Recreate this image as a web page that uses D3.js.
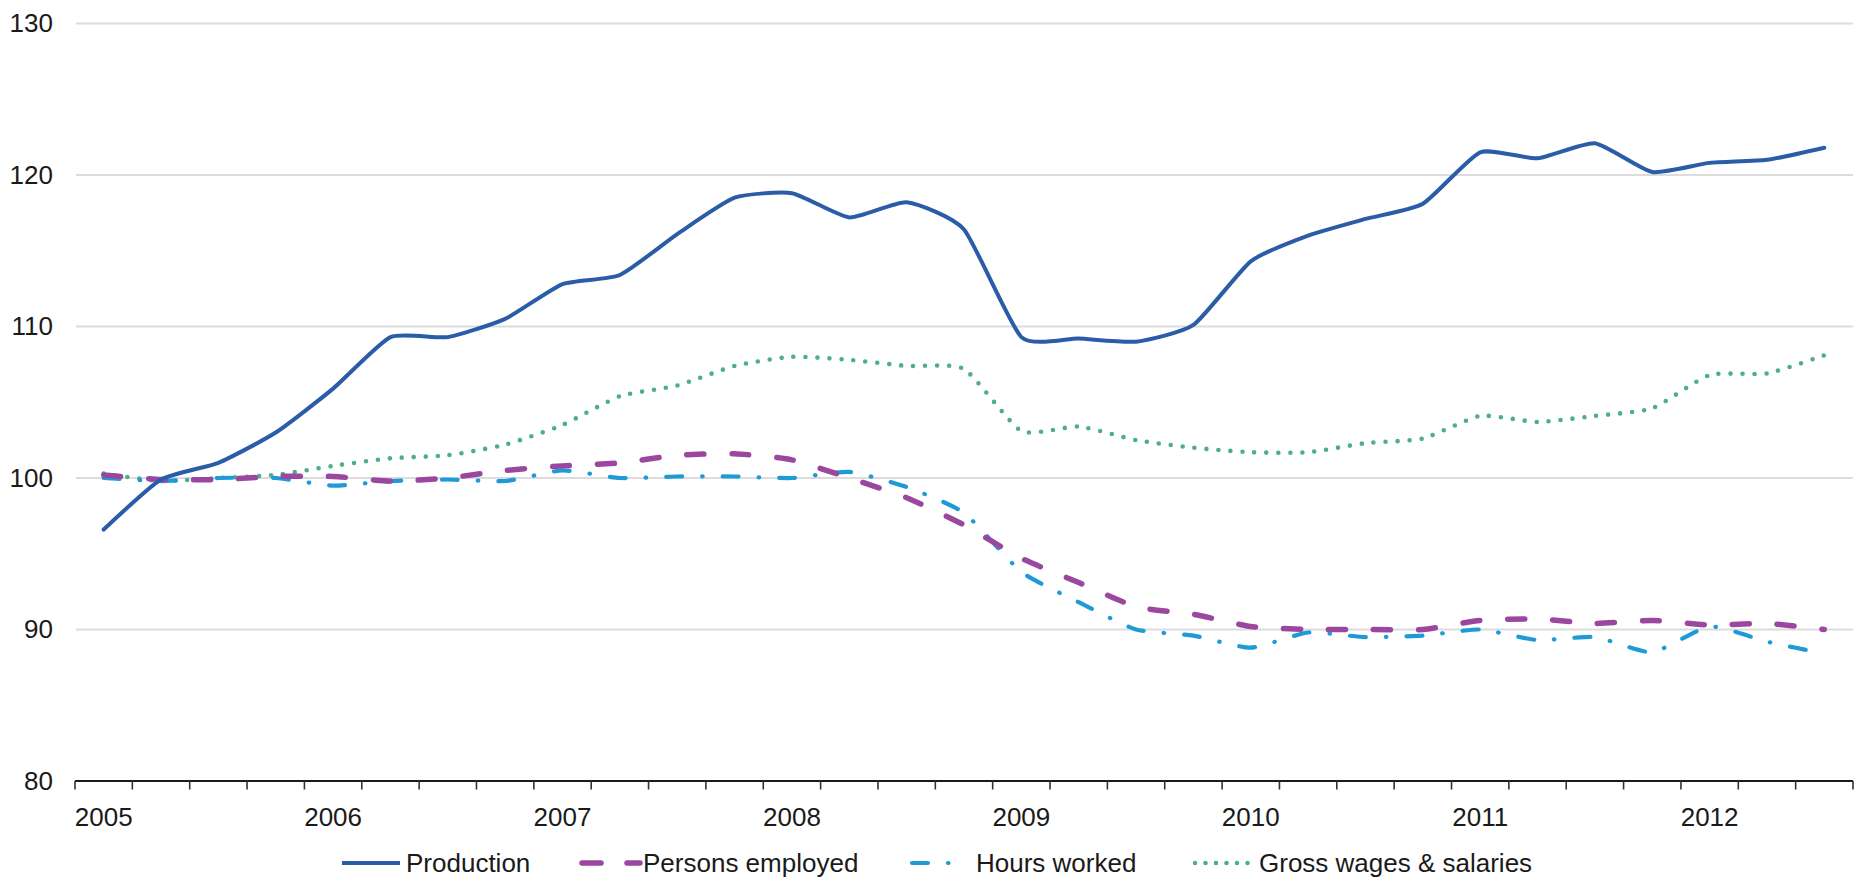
<!DOCTYPE html>
<html>
<head>
<meta charset="utf-8">
<script src="https://cdn.jsdelivr.net/npm/d3@7"></script>
<style>
  html, body { margin: 0; padding: 0; background: #ffffff; }
  svg { display: block; }
  text { font-family: "Liberation Sans", Arial, sans-serif; fill: #1a1a1a; }
</style>
</head>
<body>
<svg id="chart" width="1865" height="879"></svg>
<script>
// ---- data ----
const years = ["2005", "2006", "2007", "2008", "2009", "2010", "2011", "2012"];
const quarters = ["Q1", "Q2", "Q3", "Q4"];
const categories = [];
years.forEach(y => quarters.forEach(q => categories.push(y + q)));
categories.length = 31; // 2005Q1 .. 2012Q3

const yTicks = [80, 90, 100, 110, 120, 130];

const production = [96.6, 99.9, 101.0, 103.0, 105.9, 109.3, 109.3, 110.5, 112.8, 113.4, 116.1, 118.5, 118.8, 117.2, 118.2, 116.4,
                    109.3, 109.2, 109.0, 110.1, 114.3, 116.0, 117.1, 118.1, 121.5, 121.1, 122.1, 120.2, 120.8, 121.0, 121.8];
const personsEmployed = [100.2, 99.9, 99.9, 100.1, 100.1, 99.8, 100.0, 100.5, 100.8, 101.0, 101.5, 101.6, 101.2, 100.0, 98.7, 96.9,
                    94.7, 93.1, 91.5, 91.0, 90.2, 90.0, 90.0, 90.0, 90.6, 90.7, 90.4, 90.6, 90.3, 90.4, 90.0];
const hoursWorked = [100.0, 99.8, 100.0, 100.0, 99.5, 99.8, 99.9, 99.8, 100.5, 100.0, 100.1, 100.1, 100.0, 100.4, 99.4, 97.7,
                    93.8, 91.8, 90.0, 89.6, 88.8, 89.8, 89.5, 89.6, 90.0, 89.3, 89.5, 88.5, 90.2, 89.2, 88.4];
const grossWages = [100.3, 99.8, 100.0, 100.2, 100.8, 101.3, 101.5, 102.2, 103.5, 105.4, 106.1, 107.4, 108.0, 107.8, 107.4, 107.2,
                    103.1, 103.4, 102.5, 102.0, 101.7, 101.7, 102.3, 102.6, 104.1, 103.7, 104.1, 104.6, 106.8, 106.9, 108.1];

const seriesNames = ["Production", "Persons employed", "Hours worked", "Gross wages & salaries"];
const seriesValues = [production, personsEmployed, hoursWorked, grossWages];

// ---- styles ----
const styles = [
  { color: "#2b5ca8", width: 4,   dash: null,           legendDash: null,           cap: "round" },
  { color: "#9b479f", width: 5.5, dash: "17,28",        legendDash: "19,26",        cap: "round" },
  { color: "#1e9bd7", width: 4.2, dash: "16,20,0.5,20", legendDash: "16,20,0.5,20", cap: "round" },
  { color: "#4fae87", width: 4.6, dash: "0,12",         legendDash: "0,10.5",       cap: "round" }
];

// ---- layout ----
const svg = d3.select("#chart");
const plotLeft = 75, plotRight = 1853, plotTop = 23.5, plotBottom = 781;

const x = d3.scaleBand().domain(categories).range([plotLeft, plotRight]).padding(0);
const y = d3.scaleLinear().domain([80, 130]).range([plotBottom, plotTop]);
const cx = c => x(c) + x.bandwidth() / 2;

// gridlines
svg.append("g").selectAll("line")
  .data(yTicks.filter(t => t !== 80))
  .join("line")
  .attr("x1", plotLeft + 1).attr("x2", plotRight)
  .attr("y1", d => y(d)).attr("y2", d => y(d))
  .attr("stroke", "#dcdcdc").attr("stroke-width", 2);

// y axis labels (no axis line)
const yAxis = d3.axisLeft(y).tickValues(yTicks).tickSize(0).tickPadding(22);
const gy = svg.append("g").attr("transform", `translate(${plotLeft},0)`).call(yAxis);
gy.select(".domain").remove();
gy.selectAll("text").style("font-size", "26px").attr("fill", "#1a1a1a")
  .style("font-family", '"Liberation Sans", Arial, sans-serif');

// x axis: ticks on category boundaries
const boundaries = d3.range(categories.length + 1).map(i => plotLeft + i * x.bandwidth());
const gx = svg.append("g");
gx.append("line")
  .attr("x1", plotLeft).attr("x2", plotRight)
  .attr("y1", plotBottom).attr("y2", plotBottom)
  .attr("stroke", "#1a1a1a").attr("stroke-width", 2.2);
gx.selectAll("line.tick")
  .data(boundaries)
  .join("line").attr("class", "tick")
  .attr("x1", d => d).attr("x2", d => d)
  .attr("y1", plotBottom).attr("y2", plotBottom + 8.5)
  .attr("stroke", "#333").attr("stroke-width", 1.6);
gx.selectAll("text")
  .data(categories.filter(c => c.endsWith("Q1")))
  .join("text")
  .attr("x", d => cx(d))
  .attr("y", plotBottom + 36)
  .attr("dy", "0.35em")
  .attr("text-anchor", "middle")
  .style("font-size", "26px")
  .text(d => d.slice(0, 4));

// lines
const line = d3.line()
  .x((d, i) => cx(categories[i]))
  .y(d => y(d))
  .curve(d3.curveCardinal.tension(0.45));

// draw order: wages, hours, persons, production on top
[3, 2, 1, 0].forEach(k => {
  const s = styles[k];
  svg.append("path")
    .datum(seriesValues[k])
    .attr("d", line)
    .attr("fill", "none")
    .attr("stroke", s.color)
    .attr("stroke-width", s.width)
    .attr("stroke-linecap", s.cap)
    .attr("stroke-linejoin", "round")
    .attr("stroke-dasharray", s.dash);
});

// legend
const legendY = 863;
const legendItems = [
  { x1: 342, x2: 400, tx: 406 },
  { x1: 582, x2: 640, tx: 643 },
  { x1: 912, x2: 966, tx: 976 },
  { x1: 1195, x2: 1256, tx: 1259 }
];
const lg = svg.append("g");
legendItems.forEach((it, k) => {
  const s = styles[k];
  lg.append("line")
    .attr("x1", it.x1).attr("x2", it.x2)
    .attr("y1", legendY).attr("y2", legendY)
    .attr("stroke", s.color)
    .attr("stroke-width", s.width)
    .attr("stroke-linecap", k === 0 ? "butt" : s.cap)
    .attr("stroke-dasharray", s.legendDash);
  lg.append("text")
    .attr("x", it.tx).attr("y", legendY)
    .attr("dy", "0.35em")
    .style("font-size", "26px")
    .text(seriesNames[k]);
});
</script>
</body>
</html>
